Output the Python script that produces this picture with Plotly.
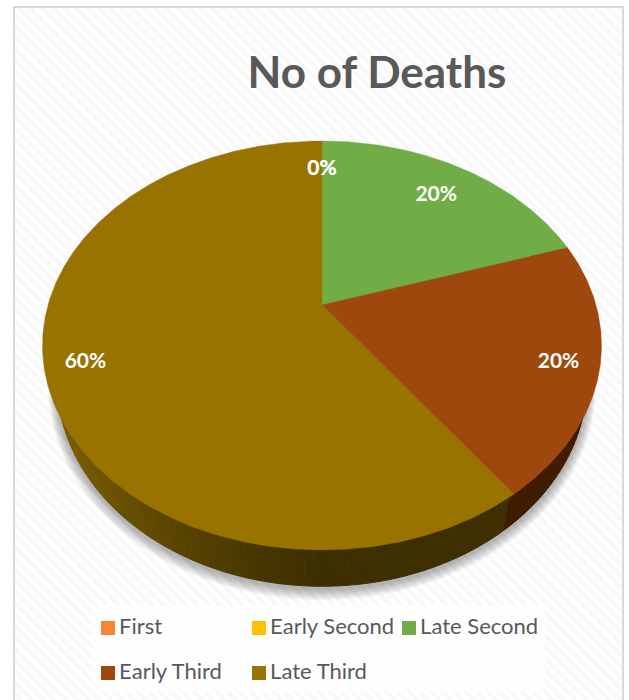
import numpy as np
import plotly.graph_objects as go

categories = ["First", "Early Second", "Late Second", "Early Third", "Late Third"]
deaths = [0, 0, 1, 1, 3]
slice_colors = ["#FB8335", "#FFC000", "#70AD47", "#9E480E", "#997300"]
wall_colors = ["#5E2A08", "#6B5200", "#33501F", "#3F1B00", "#3D2F00"]
title_text = "No of Deaths"

W, H = 629, 700
K = 0.198  # perspective strength of the tilted disc
TOP = dict(y0=305.0, a=196.5, b=274.0)
RIM = dict(y0=341.4, a=196.9, b=259.8)
CX = 322.0
FONT = "Lato, 'Open Sans', sans-serif"
GREY = "#595959"


def project(theta, r=1.0, p=TOP, grow=0.0, dy=0.0):
    """Clockwise angle from 12 o'clock (degrees) to picture coordinates."""
    t = np.radians(theta)
    u, v = r * np.sin(t), r * np.cos(t)
    den = 1 + K * v
    return CX + (p["b"] + grow) * u / den, p["y0"] + dy - (p["a"] + grow) * v / den


def mix(c1, c2, f):
    a = [int(c1[i:i + 2], 16) for i in (1, 3, 5)]
    b = [int(c2[i:i + 2], 16) for i in (1, 3, 5)]
    return "#" + "".join(f"{round(x + (y - x) * f):02X}" for x, y in zip(a, b))


values = np.array(deaths, dtype=float)
shares = values / values.sum()
edges = np.concatenate([[0.0], np.cumsum(shares) * 360.0])

fig = go.Figure()

# patterned page background and the paler legend panel
fig.add_trace(go.Bar(
    x=[318.5], y=[713], base=[7], width=[609], hoverinfo="skip", showlegend=False,
    marker=dict(color="white", line_width=0,
                pattern=dict(shape="\\", fgcolor="#F1F1F1", bgcolor="white", size=8, solidity=0.5)),
))
fig.add_trace(go.Bar(
    x=[318.5], y=[87], base=[605], width=[453], hoverinfo="skip", showlegend=False,
    marker=dict(color="rgba(255,255,255,0.7)", line_width=0),
))

# soft shadow under the disc
ring = np.linspace(0, 360, 181)
for d in range(1, 10):
    sx, sy = project(ring, p=RIM, grow=d * 1.0, dy=2.0)
    fig.add_trace(go.Scatter(x=sx, y=sy, mode="lines", fill="toself", line_width=0,
                             fillcolor="rgba(0,0,0,0.035)", hoverinfo="skip", showlegend=False))

# side wall: the upper edge runs just inside the top face so it stays hidden
for i, col in enumerate(wall_colors):
    a0, a1 = edges[i], edges[i + 1]
    if a1 <= a0:
        continue
    steps = max(1, int(np.ceil((a1 - a0) / 1.5)))
    bounds = np.linspace(a0, a1, steps + 1)
    for s0, s1 in zip(bounds[:-1], bounds[1:]):
        th = np.linspace(s0, s1, 3)
        tx, ty = project(th, r=0.985)
        bx, by = project(th[::-1], p=RIM, grow=-0.5)
        px = np.concatenate([tx, bx])
        py = np.concatenate([ty, by])
        shade = col
        if categories[i] == "Late Third":
            f = np.clip((CX - px.mean()) / 262.0, 0, 1) ** 1.3
            shade = mix(col, "#7A5D00", f)
        fig.add_trace(go.Scatter(x=px, y=py, mode="lines", fill="toself", fillcolor=shade,
                                 line=dict(color=shade, width=1.0), hoverinfo="skip", showlegend=False))

# top face of the slices
for i, col in enumerate(slice_colors):
    a0, a1 = edges[i], edges[i + 1]
    if a1 <= a0:
        continue
    th = np.linspace(a0, a1, max(2, int((a1 - a0) * 2)))
    ax, ay = project(th)
    px = np.concatenate([[CX], ax, [CX]])
    py = np.concatenate([[TOP["y0"]], ay, [TOP["y0"]]])
    fig.add_trace(go.Scatter(x=px, y=py, mode="lines", fill="toself", fillcolor=col,
                             line=dict(color=col, width=0.4), name=categories[i],
                             hoverinfo="name", showlegend=False))

# percentage labels
label_depth = [0.82, 0.82, 0.80, 0.86, 0.86]
for i in range(len(categories)):
    mid = (edges[i] + edges[i + 1]) / 2
    lx, ly = project(mid, r=label_depth[i], dy=3.0)
    fig.add_trace(go.Scatter(x=[lx], y=[ly], mode="text", text=[f"{shares[i] * 100:.0f}%"],
                             textposition="middle center",
                             textfont=dict(family=FONT, size=21, color="white", weight="bold"),
                             hoverinfo="skip", showlegend=False))

# legend, laid out as in the reference
legend_x = [108, 259, 409, 108, 259]
legend_y = [628, 628, 628, 673, 673]
for name, col, lx, ly in zip(categories, slice_colors, legend_x, legend_y):
    fig.add_trace(go.Scatter(x=[lx], y=[ly], mode="markers+text", text=["\u200a" + name],
                             textposition="middle right",
                             marker=dict(symbol="square", size=14, color=col, line_width=0),
                             textfont=dict(family=FONT, size=22, color=GREY),
                             hoverinfo="skip", showlegend=False))

fig.update_layout(
    width=W, height=H, margin=dict(l=0, r=0, t=0, b=0), autosize=False,
    paper_bgcolor="white", plot_bgcolor="white", barmode="overlay", showlegend=False,
    title=dict(text=title_text, x=377 / W, y=1 - 73 / H, xanchor="center", yanchor="middle",
               font=dict(family=FONT, size=44, color=GREY, weight="bold")),
    xaxis=dict(range=[0, W], visible=False, fixedrange=True),
    yaxis=dict(range=[H, 0], visible=False, fixedrange=True),
    shapes=[dict(type="rect", x0=14, x1=623, y0=7, y1=720, xref="x", yref="y",
                 line=dict(color="#D9D9D9", width=2), layer="above")],
)
fig.write_html("out.html", config={"displayModeBar": False},
               post_script="document.body.style.margin='0';document.documentElement.style.overflow='hidden';")
